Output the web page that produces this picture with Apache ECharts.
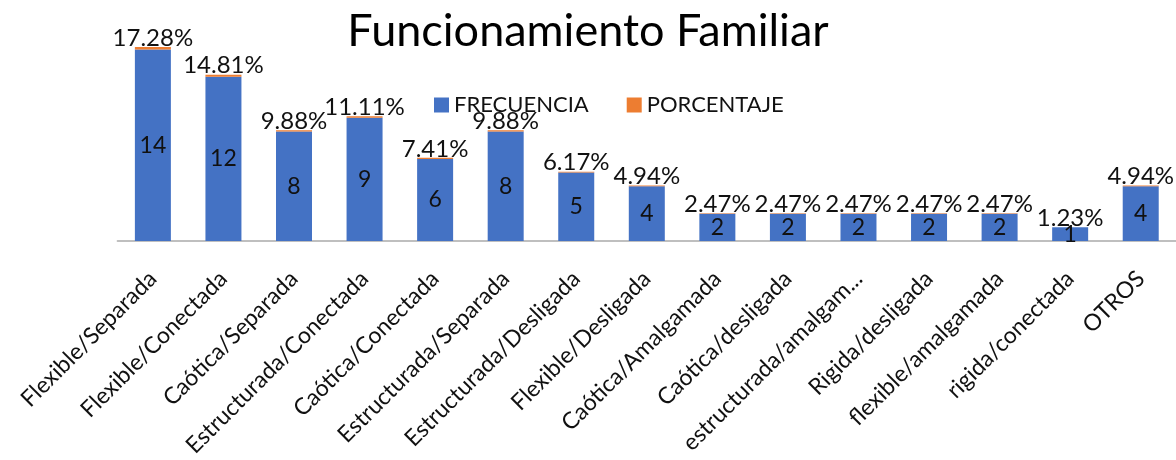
<!DOCTYPE html>
<html>
<head>
<meta charset="utf-8">
<script src="https://cdn.jsdelivr.net/npm/echarts@6/dist/echarts.min.js"></script>
<style>
  html, body { margin: 0; padding: 0; background: #fff; }
  #box1 { width: 1176px; height: 460px; }
</style>
</head>
<body>
<div id="box1"></div>
<script>
// categorias y valores
var categorias = ['Flexible/Separada', 'Flexible/Conectada', 'Caótica/Separada', 'Estructurada/Conectada',
  'Caótica/Conectada', 'Estructurada/Separada', 'Estructurada/Desligada', 'Flexible/Desligada',
  'Caótica/Amalgamada', 'Caótica/desligada', 'estructurada/amalgam...', 'Rigida/desligada',
  'flexible/amalgamada', 'rigida/conectada', 'OTROS'];
var frecuencia = [14, 12, 8, 9, 6, 8, 5, 4, 2, 2, 2, 2, 2, 1, 4];
var porcentaje = [0.1728, 0.1481, 0.0988, 0.1111, 0.0741, 0.0988, 0.0617, 0.0494, 0.0247, 0.0247, 0.0247, 0.0247, 0.0247, 0.0123, 0.0494];

var chart = echarts.init(document.getElementById('box1'));
var fuente = 'Lato';

option = {
  animation: false,
  title: {
    text: 'Funcionamiento Familiar',
    left: 'center',
    top: 4,
    textStyle: { fontFamily: fuente, fontSize: 45, fontWeight: 'normal', color: '#000' }
  },
  legend: {
    data: ['FRECUENCIA', 'PORCENTAJE'],
    left: 429,
    top: 89,
    icon: 'rect',
    itemWidth: 15,
    itemHeight: 15,
    itemGap: 38,
    textStyle: { fontFamily: fuente, fontSize: 22, color: '#111' }
  },
  grid: { left: 117.6, width: 1062.3, top: 22, bottom: 219 },
  xAxis: {
    type: 'category',
    data: categorias,
    axisTick: { show: false },
    axisLine: { lineStyle: { color: '#bfbfbf', width: 2 } },
    axisLabel: {
      interval: 0,
      rotate: 45,
      margin: 34,
      fontFamily: fuente,
      fontSize: 23,
      color: '#111'
    }
  },
  yAxis: {
    type: 'value',
    min: 0,
    max: 16,
    show: false,
    splitLine: { show: false }
  },
  series: [{
    name: 'FRECUENCIA',
    type: 'bar',
    stack: 'total',
    barWidth: 36,
    data: frecuencia,
    itemStyle: { color: '#4472C4' },
    label: {
      show: true,
      position: 'inside',
      fontFamily: fuente,
      fontSize: 23,
      color: '#111'
    }
  }, {
    name: 'PORCENTAJE',
    type: 'bar',
    stack: 'total',
    barWidth: 36,
    data: porcentaje,
    itemStyle: { color: '#ED7D31' },
    label: {
      show: true,
      position: 'top',
      distance: -3,
      fontFamily: fuente,
      fontSize: 24,
      color: '#111',
      formatter: function(p) {
        return (p.value * 100).toFixed(2) + '%';
      }
    }
  }]
};
chart.setOption(option);
</script>
</body>
</html>
